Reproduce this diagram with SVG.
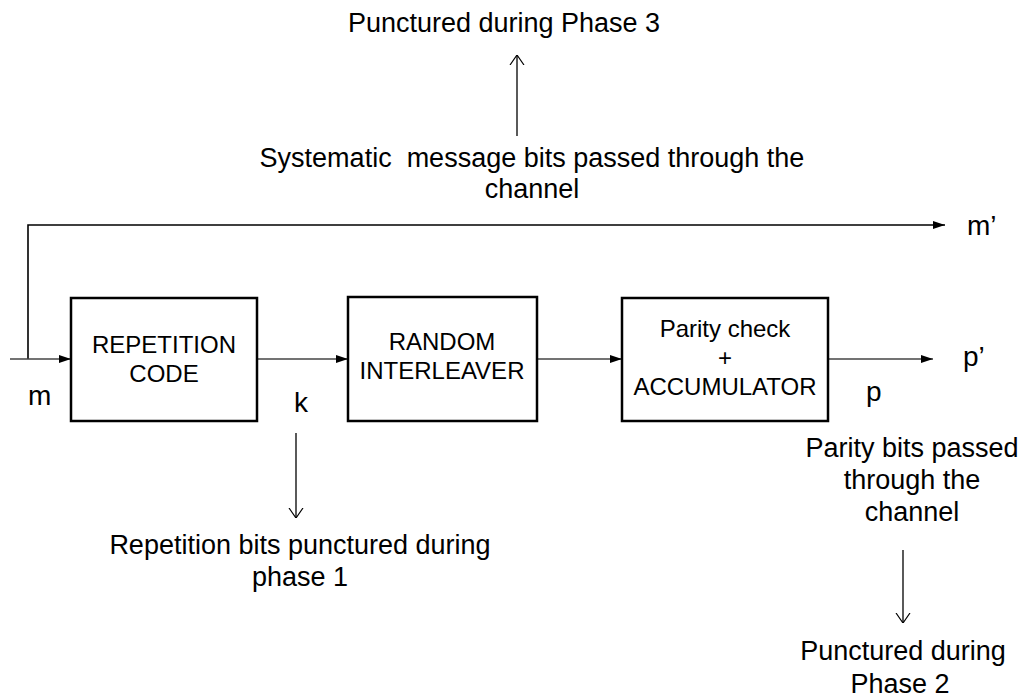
<svg xmlns="http://www.w3.org/2000/svg" width="1026" height="699" viewBox="0 0 1026 699">
  <defs>
    <marker id="solid" viewBox="0 0 12 8" refX="12" refY="4" markerWidth="12" markerHeight="8" markerUnits="userSpaceOnUse" orient="auto">
      <path d="M0,0 L12,4 L0,8 Z" fill="#000"/>
    </marker>
    <marker id="open" viewBox="0 0 10 24" refX="10" refY="12" markerWidth="10" markerHeight="24" markerUnits="userSpaceOnUse" orient="auto">
      <path d="M0,5 L10,12 L0,19" fill="none" stroke="#000" stroke-width="1.2"/>
    </marker>
    <style>
      text { font-family: "Liberation Sans", Arial, sans-serif; fill: #000; }
      .box { fill: #fff; stroke: #000; stroke-width: 2.5; }
      .lbl { font-size: 24px; text-anchor: middle; }
      .note { font-size: 27px; text-anchor: middle; }
      .sig { font-size: 28px; }
      .wire { fill: none; stroke: #444; stroke-width: 1.6; }
      .wire-d { fill: none; stroke: #000; stroke-width: 1.6; }
      .tick { fill: none; stroke: #000; stroke-width: 1.3; }
    </style>
  </defs>

  <!-- signal paths -->
  <g id="connectors">
    <path class="wire-d" d="M28,359 V225 H945" marker-end="url(#solid)"/>
    <path class="wire" d="M10,359 H71" marker-end="url(#solid)"/>
    <path class="wire" d="M257,359 H348" marker-end="url(#solid)"/>
    <path class="wire" d="M537,359 H622" marker-end="url(#solid)"/>
    <path class="wire" d="M828,359 H933" marker-end="url(#solid)"/>
    <path class="tick" d="M517,136 V55" marker-end="url(#open)"/>
    <path class="tick" d="M296,433 V518" marker-end="url(#open)"/>
    <path class="tick" d="M903,550 V623" marker-end="url(#open)"/>
  </g>

  <g id="repetition-code">
    <rect class="box" x="71" y="298" width="186" height="123"/>
    <text class="lbl" x="164" y="353">REPETITION</text>
    <text class="lbl" x="164" y="382">CODE</text>
  </g>

  <g id="random-interleaver">
    <rect class="box" x="348" y="297" width="189" height="124"/>
    <text class="lbl" x="442" y="350">RANDOM</text>
    <text class="lbl" x="442" y="379">INTERLEAVER</text>
  </g>

  <g id="parity-accumulator">
    <rect class="box" x="622" y="298" width="206" height="123"/>
    <text class="lbl" x="725" y="337">Parity check</text>
    <text class="lbl" x="725" y="366">+</text>
    <text class="lbl" x="725" y="395">ACCUMULATOR</text>
  </g>

  <!-- signal names -->
  <g id="signal-labels">
    <text class="sig" x="28" y="405">m</text>
    <text class="sig" x="294" y="412">k</text>
    <text class="sig" x="866" y="401">p</text>
    <text class="sig" x="967" y="235">m’</text>
    <text class="sig" x="963" y="366">p’</text>
  </g>

  <!-- annotations -->
  <g id="systematic-note">
    <text class="note" x="504" y="32">Punctured during Phase 3</text>
    <text class="note" x="532" y="167" xml:space="preserve">Systematic  message bits passed through the</text>
    <text class="note" x="532" y="198">channel</text>
  </g>

  <g id="repetition-note">
    <text class="note" x="300" y="554">Repetition bits punctured during</text>
    <text class="note" x="300" y="586">phase 1</text>
  </g>

  <g id="parity-note">
    <text class="note" x="912" y="457">Parity bits passed</text>
    <text class="note" x="912" y="489">through the</text>
    <text class="note" x="912" y="521">channel</text>
    <text class="note" x="903" y="660">Punctured during</text>
    <text class="note" x="900" y="693">Phase 2</text>
  </g>
</svg>
